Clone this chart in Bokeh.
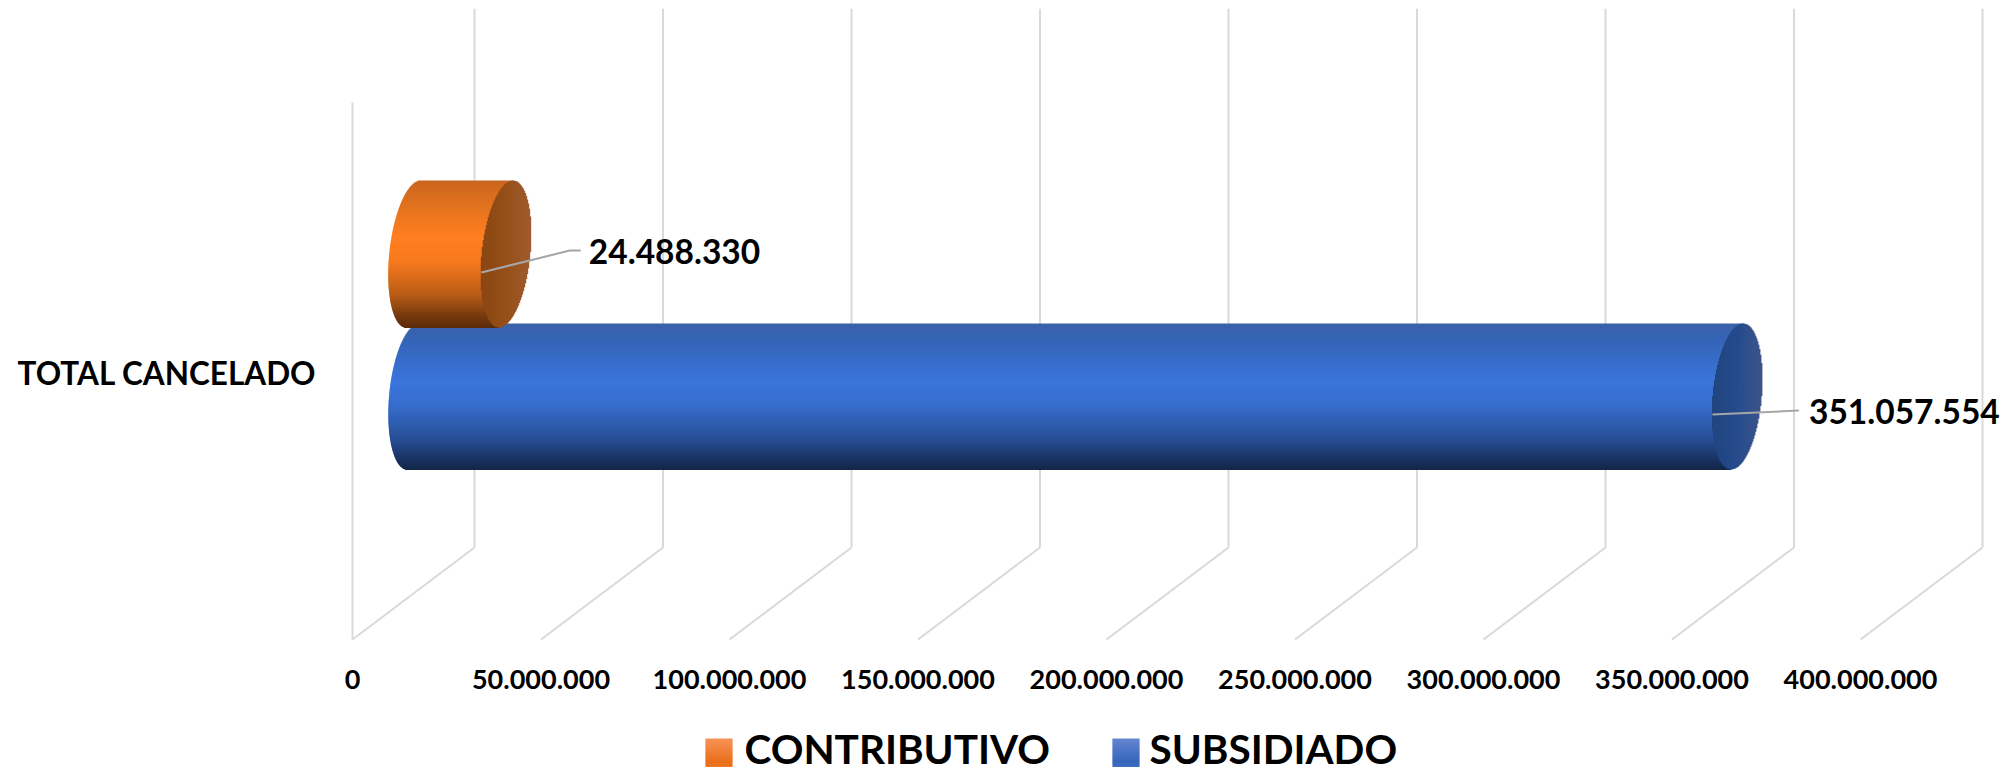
import numpy as np
from bokeh.plotting import figure
from bokeh.layouts import column
from bokeh.models import (ColumnDataSource, FixedTicker, Range1d)
from bokeh.core.properties import value
from bokeh.embed import file_html
from bokeh.resources import INLINE

# ---- data
categories = ["TOTAL CANCELADO"]
series_names = ["CONTRIBUTIVO", "SUBSIDIADO"]
contributivo = [24488330]
subsidiado = [351057554]
ticks = [0, 50000000, 100000000, 150000000, 200000000, 250000000, 300000000, 350000000, 400000000]
tick_labels = ["0", "50.000.000", "100.000.000", "150.000.000", "200.000.000", "250.000.000",
               "300.000.000", "350.000.000", "400.000.000"]

# ---- scale: pixels per value on the front edge of the floor
PX = 188.5 / 50000000
FRONT = 352.0       # page x of value 0
FRAME_L, FRAME_R, FRAME_T, FRAME_B = 340.0, 2005.0, 8.0, 655.0
PLOT_BOTTOM, PAGE_BOTTOM = 712, 771
FONT = "Lato"
GRID = "#D9D9D9"

def X(v, dpx=0.0):
    return v + dpx / PX

p = figure(output_backend="svg", toolbar_location=None,
           frame_width=int(FRAME_R - FRAME_L), frame_height=int(FRAME_B - FRAME_T),
           x_range=Range1d((FRAME_L - FRONT) / PX, (FRAME_R - FRONT) / PX),
           y_range=Range1d(FRAME_B, FRAME_T),
           min_border_left=int(FRAME_L), min_border_right=2, min_border_top=int(FRAME_T),
           min_border_bottom=int(PLOT_BOTTOM - FRAME_B))
p.outline_line_color = None
p.grid.visible = False

# ---- axes
ax = p.xaxis[0]
ax.ticker = FixedTicker(ticks=ticks)
ax.major_label_overrides = {t: l for t, l in zip(ticks, tick_labels)}
ax.axis_line_color = None
ax.major_tick_line_color = None
ax.minor_tick_line_color = None
ax.major_label_text_font = FONT
ax.major_label_text_font_style = "bold"
ax.major_label_text_font_size = "27px"
ax.major_label_text_color = "#000000"
ax.major_label_standoff = 8

ay = p.yaxis[0]
CAT_Y = 372.0
ay.ticker = FixedTicker(ticks=[CAT_Y])
ay.major_label_overrides = {CAT_Y: categories[0]}
ay.axis_line_color = None
ay.major_tick_line_color = None
ay.minor_tick_line_color = None
ay.major_label_text_font = FONT
ay.major_label_text_font_style = "bold"
ay.major_label_text_font_size = "31.5px"
ay.major_label_text_color = "#000000"
ay.major_label_standoff = 18

# ---- pseudo-3D walls
DEPTH = 122.0
FLOOR_FRONT, FLOOR_BACK, TOP_BACK, TOP_FRONT = 639.0, 547.0, 8.0, 102.0
p.segment(x0=[0], y0=[TOP_FRONT], x1=[0], y1=[FLOOR_FRONT], line_color=GRID, line_width=2)
for t in ticks:
    p.segment(x0=[t], y0=[FLOOR_FRONT], x1=[X(t, DEPTH)], y1=[FLOOR_BACK], line_color=GRID, line_width=2)
    p.segment(x0=[X(t, DEPTH)], y0=[FLOOR_BACK], x1=[X(t, DEPTH)], y1=[TOP_BACK], line_color=GRID, line_width=2)

# ---- cylinders
def lerp_colors(stops, q):
    pos = [s[0] for s in stops]
    rgb = np.array([[int(s[1][i:i + 2], 16) for i in (1, 3, 5)] for s in stops], float)
    return ["#%02x%02x%02x" % tuple(int(round(np.interp(u, pos, rgb[:, k]))) for k in range(3)) for u in q]

def cylinder(val, yc, h, a, skew, body_stops, cap_stops, start_px=61.0):
    ys = np.arange(yc - h, yc + h - 0.5, 1.0)
    t = np.clip((ys + 0.5 - yc) / h, -1, 1)
    left = start_px - a * np.sqrt(1 - t ** 2) - skew * t
    mid = start_px - skew * t
    body = ColumnDataSource(dict(left=left / PX,
                                 right=val + mid / PX,
                                 top=ys, bottom=ys + 1.4,
                                 color=lerp_colors(body_stops, (t + 1) / 2)))
    p.quad(left="left", right="right", top="top", bottom="bottom", fill_color="color", line_color=None, source=body)

    # end cap: a sheared ellipse filled in vertical slices
    R = np.hypot(a, skew)
    phi = np.arctan2(skew, a)
    dx = np.arange(-R + 0.25, R, 1.0)
    th = np.arccos(np.clip((dx + 0.5) / R, -1, 1))
    y1 = yc + h * np.sin(th - phi)
    y2 = yc + h * np.sin(-th - phi)
    cap = ColumnDataSource(dict(left=val + (start_px + dx) / PX, right=val + (start_px + dx + 1.4) / PX,
                                top=np.minimum(y1, y2), bottom=np.maximum(y1, y2),
                                color=lerp_colors(cap_stops, (dx + R) / (2 * R))))
    p.quad(left="left", right="right", top="top", bottom="bottom", fill_color="color", line_color=None, source=cap)

blue_body = [(0, "#3A62A8"), (0.12, "#3565B8"), (0.40, "#3A75DC"), (0.55, "#376ECE"),
             (0.78, "#28509A"), (0.92, "#1A3566"), (1, "#122648")]
blue_cap = [(0, "#21457F"), (0.5, "#254A8C"), (1, "#3B5488")]
orange_body = [(0, "#C8651F"), (0.12, "#DB6F1E"), (0.38, "#FF7F20"), (0.55, "#F87A1E"),
               (0.78, "#B85C16"), (0.92, "#76390E"), (1, "#5C2C0B")]
orange_cap = [(0, "#8A4612"), (0.5, "#96501A"), (1, "#A05C30")]

cylinder(subsidiado[0], 396.0, 73.0, 24.5, 6.0, blue_body, blue_cap)
cylinder(contributivo[0], 253.5, 73.5, 24.3, 7.0, orange_body, orange_cap)

# ---- leaders and data labels
LEADER = "#A6A6A6"
def fmt(v):
    return f"{v:,}".replace(",", ".")

p.line(x=[X(contributivo[0], 61 - 24.5), X(contributivo[0], 61 + 64), X(contributivo[0], 61 + 75)],
       y=[272, 250, 250], line_color=LEADER, line_width=2)
p.line(x=[X(subsidiado[0], 61 - 24.5), X(subsidiado[0], 61 + 62)],
       y=[414, 410], line_color=LEADER, line_width=2)
p.text(x=[X(contributivo[0], 61 + 83)], y=[251], text=[fmt(contributivo[0])],
       text_font=value(FONT), text_font_style="bold", text_font_size="33.5px",
       text_color="#000000", text_baseline="middle", text_align="left")
p.text(x=[X(subsidiado[0], 61 + 72)], y=[411], text=[fmt(subsidiado[0])],
       text_font=value(FONT), text_font_style="bold", text_font_size="33.5px",
       text_color="#000000", text_baseline="middle", text_align="left")

# ---- legend strip under the chart, with gradient swatches
q = figure(output_backend="svg", toolbar_location=None,
           frame_width=int(FRAME_R - FRAME_L), frame_height=PAGE_BOTTOM - PLOT_BOTTOM,
           x_range=Range1d(FRAME_L, FRAME_R), y_range=Range1d(PAGE_BOTTOM, PLOT_BOTTOM),
           min_border_left=int(FRAME_L), min_border_right=2, min_border_top=0, min_border_bottom=0)
q.outline_line_color = None
q.grid.visible = False
q.xaxis.visible = False
q.yaxis.visible = False

def swatch(x0, stops):
    ys = np.arange(738.0, 766.0, 1.0)
    q.quad(left=x0, right=x0 + 27, top=ys, bottom=ys + 1.4, line_color=None,
           fill_color=lerp_colors(stops, (ys - 738.0) / 27.0))

swatch(705.0, [(0, "#F79256"), (1, "#E8690F")])
swatch(1112.0, [(0, "#6486D0"), (1, "#2C60B8")])
q.text(x=[744, 1149], y=[747.5, 747.5], text=series_names,
       text_font=value(FONT), text_font_style="bold", text_font_size="40.5px",
       text_color="#000000", text_baseline="middle", text_align="left")

open("out.html", "w").write(file_html(column(p, q, spacing=0), INLINE))
